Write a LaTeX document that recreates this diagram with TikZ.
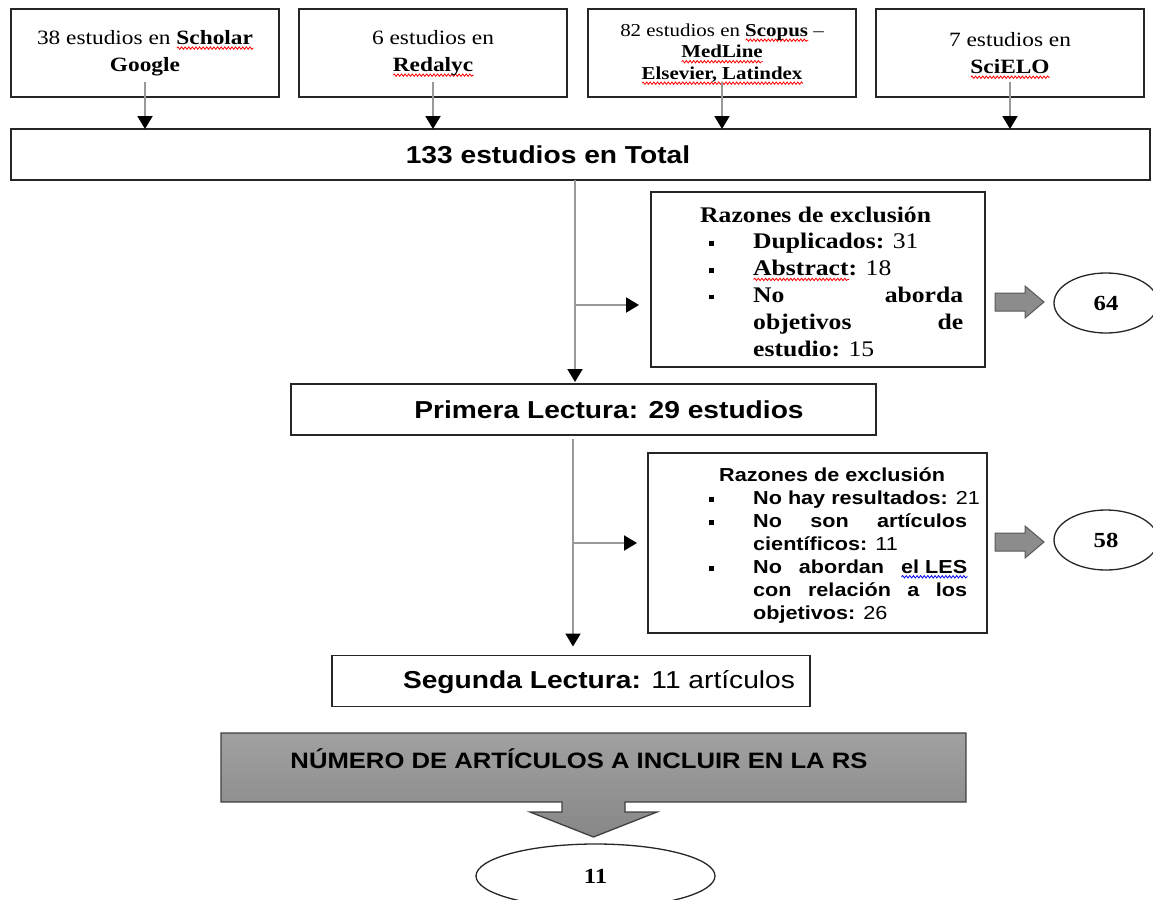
\documentclass[tikz,border=0pt]{standalone}
\usepackage{fontspec}
\setmainfont{Liberation Serif}[FakeStretch=1.15]
\setsansfont{Liberation Sans}[FakeStretch=1.15]
\usetikzlibrary{arrows.meta,shapes.geometric,decorations.pathmorphing}
\newdimen\sqw
\newcommand\sqline[2]{\setbox0\hbox{#2}\sqw=\wd0\rlap{\raisebox{-3.8pt}[0pt][0pt]{\tikz[baseline=0pt]\draw[#1, line width=0.8pt, decorate, decoration={snake, amplitude=1.2pt, segment length=3.6pt}] (0pt,0pt) -- (\the\sqw,0pt);}}\box0}
\newcommand\redsq[1]{\sqline{red}{#1}}
\newcommand\bluesq[1]{\sqline{blue}{#1}}
\newcommand\topfont{\fontsize{20.3}{27}\selectfont}
\newcommand\smtopfont{\fontsize{18.2}{21.5}\selectfont}
\newcommand\bigsf{\sffamily\bfseries\fontsize{24.5}{29}\selectfont}
\newcommand\bigsfm{\sffamily\fontsize{24.5}{29}\selectfont}
\newcommand\ronefont{\fontsize{22.3}{26.8}\selectfont}
\newcommand\rtwofont{\sffamily\fontsize{18.8}{23}\selectfont}
\newcommand\numfont{\bfseries\fontsize{21.5}{24}\selectfont}
\newcommand\callfont{\sffamily\bfseries\fontsize{22.3}{26}\selectfont}
\newcommand\sqbulA{\makebox[44pt][l]{\rule[3pt]{4.5pt}{4.5pt}}}
\newcommand\sqbulB{\makebox[44pt][l]{\rule[2.5pt]{4.5pt}{4.5pt}}}
\begin{document}
\begin{tikzpicture}[x=1pt,y=-1pt,
  box/.style={draw=black!85, line width=1.8pt, inner sep=0pt, outer sep=0pt},
  topbox/.style={box, minimum width=268pt, minimum height=88pt, align=center, font=\topfont},
  conn/.style={draw=gray!80, line width=2pt, -{Triangle[length=13pt,width=15pt,fill=black,color=black]}},
  ell/.style={ellipse, draw=black!85, line width=1.3pt, inner sep=0pt, font=\numfont},
  barrow/.style={fill=gray!90, draw=black!65, line width=1pt},
  txt/.style={inner sep=0pt, anchor=base}]
\useasboundingbox (0,0) rectangle (1153,899);

% top source boxes
\node[topbox] (b1) at (145,53) {38 estudios en \textbf{\redsq{Scholar}}\\\textbf{Google}};
\node[topbox] (b2) at (433,53) {6 estudios en\\\textbf{\redsq{Redalyc}}};
\node[topbox, font=\smtopfont] (b3) at (722,53) {82 estudios en \textbf{\redsq{Scopus}} --\\\textbf{\redsq{MedLine}}\\\textbf{\redsq{Elsevier, Latindex}}};
\node[topbox] (b4) at (1010,53) {7 estudios en\\\textbf{\redsq{SciELO}}};

% total
\node[box, minimum width=1139pt, minimum height=51pt] (tot) at (580.5,154.5) {};
\node[txt, font=\bigsf] (tott) at (548,163) {133 estudios en Total};

\foreach \b in {b1,b2,b3,b4}{
  \draw[conn] ([yshift=15pt]\b.south) -- (\b.south |- tot.north);
}

% exclusion box 1
\node[box, minimum width=334pt, minimum height=175pt] (r1) at (818,279.5) {};
\node[inner sep=0pt, anchor=base west, font=\ronefont] (r1t) at (709,222) {\vtop{%
  \hbox to 254pt{\kern-9pt\textbf{Razones de exclusión}\hss}
  \hbox{\sqbulA\textbf{Duplicados:} 31}
  \hbox{\sqbulA\textbf{\redsq{Abstract}:} 18}
  \hbox{\sqbulA\hbox to 210pt{\textbf{No}\hfill\textbf{aborda}}}
  \hbox{\kern44pt\hbox to 210pt{\textbf{objetivos}\hfill\textbf{de}}}
  \hbox{\kern44pt\textbf{estudio:} 15}}};

% primera lectura
\node[box, minimum width=585pt, minimum height=51pt] (prim) at (583.5,409.5) {};
\node[txt, font=\bigsf] (primt) at (609,418) {Primera Lectura: 29 estudios};

\draw[conn, shorten >=2pt] ([xshift=-5.5pt]tot.south) -- ([xshift=-5.5pt]tot.south |- prim.north);
\coordinate (br1) at ([xshift=-5.5pt]tot.south |- 0,305);
\draw[conn, shorten >=12pt] (br1) -- (br1 -| r1.west);

% block arrow + ellipse 64
\draw[barrow] (995,293) -- (1025,293) -- (1025,286) -- (1044,302) -- (1025,318) -- (1025,311) -- (995,311) -- cycle;
\node[ell, minimum width=104pt, minimum height=60pt] (e64) at (1106,303) {64};

% exclusion box 2
\node[box, minimum width=339pt, minimum height=180pt] (r2) at (817.5,543) {};
\node[inner sep=0pt, anchor=base west, font=\rtwofont] (r2t) at (709,481) {\vtop{%
  \hbox to 258pt{\kern10pt\textbf{Razones de exclusión}\hss}
  \hbox{\sqbulB\textbf{No hay resultados:} 21}
  \hbox{\sqbulB\hbox to 214pt{\textbf{No}\hfill\textbf{son}\hfill\textbf{artículos}}}
  \hbox{\kern44pt\textbf{científicos:} 11}
  \hbox{\sqbulB\hbox to 214pt{\textbf{No}\hfill\textbf{abordan}\hfill\textbf{\bluesq{el LES}}}}
  \hbox{\kern44pt\hbox to 214pt{\textbf{con}\hfill\textbf{relación}\hfill\textbf{a}\hfill\textbf{los}}}
  \hbox{\kern44pt\textbf{objetivos:} 26}}};

% segunda lectura
\node[box, minimum width=478pt, minimum height=51pt] (seg) at (571,681) {};
\node[txt, font=\bigsfm] (segt) at (599,688) {\textbf{Segunda Lectura:} 11 artículos};

\coordinate (v2) at ([xshift=-10.5pt,yshift=-4pt]prim.south);
\draw[conn, shorten >=9pt] (v2) -- (v2 |- seg.north);
\coordinate (br2) at (v2 |- 0,543);
\draw[conn, shorten >=11pt] (br2) -- (br2 -| r2.west);

% block arrow + ellipse 58
\draw[barrow] (995,533) -- (1025,533) -- (1025,526) -- (1044,542) -- (1025,558) -- (1025,551) -- (995,551) -- cycle;
\node[ell, minimum width=104pt, minimum height=60pt] (e58) at (1106,540) {58};

% final callout
\path[draw=black!75, line width=1.3pt, top color=gray!74, bottom color=gray!94]
  (221,733) -- (966,733) -- (966,802) -- (625,802) -- (625,812) -- (657,812) -- (593.5,837)
  -- (530,812) -- (562,812) -- (562,802) -- (221,802) -- cycle;
\node[txt, font=\callfont] (callt) at (579,768) {NÚMERO DE ARTÍCULOS A INCLUIR EN LA RS};

\node[ell, minimum width=239pt, minimum height=64pt] (e11) at (595.5,876) {\textbf{11}\hspace{31pt}};
\end{tikzpicture}
\end{document}
